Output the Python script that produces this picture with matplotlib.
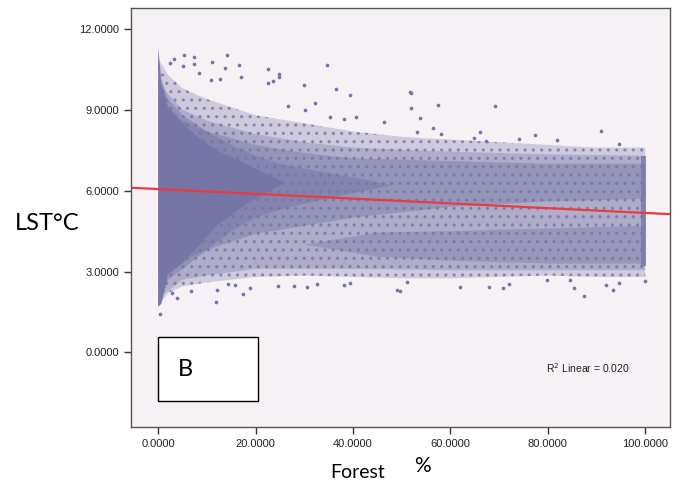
import matplotlib
matplotlib.use("Agg")
import matplotlib.pyplot as plt
from matplotlib.patches import Polygon, Rectangle

# ---- data (Forest %, LST degC) ----
# outer envelope of the point cloud (sparse dots)
env_top_x = [0, 2, 5, 10, 15, 20, 30, 40, 50, 60, 70, 80, 90, 100]
env_top_y = [10.9, 10.3, 9.8, 9.4, 9.1, 8.8, 8.5, 8.2, 8.0, 7.9, 7.8, 7.7, 7.6, 7.6]
env_bot_x = [100, 90, 80, 70, 60, 50, 40, 30, 20, 10, 5, 2, 0]
env_bot_y = [2.8, 2.8, 2.85, 2.8, 2.75, 2.75, 2.8, 2.85, 2.8, 2.6, 2.45, 2.2, 1.7]

# broad body of the cloud
mid_top_x = [0, 5, 10, 20, 30, 40, 60, 80, 100]
mid_top_y = [10.0, 9.0, 8.6, 8.1, 7.8, 7.6, 7.45, 7.35, 7.3]
mid_bot_x = [100, 80, 60, 40, 20, 10, 5, 0]
mid_bot_y = [3.05, 3.05, 3.05, 3.1, 3.1, 2.85, 2.7, 2.0]

# upper band (denser)
up_top_x = [0, 5, 10, 20, 30, 40, 60, 80, 100]
up_top_y = [9.5, 8.6, 8.2, 7.7, 7.4, 7.2, 7.1, 7.0, 7.0]
up_bot_x = [100, 80, 60, 40, 20, 10, 0]
up_bot_y = [5.7, 5.6, 5.4, 5.0, 4.4, 3.8, 3.0]

# lower band (denser, right half)
lo_top_x = [30, 45, 60, 80, 100]
lo_top_y = [4.0, 4.45, 4.5, 4.6, 4.7]
lo_bot_x = [100, 80, 60, 45]
lo_bot_y = [3.3, 3.3, 3.4, 3.55]

# dense core near zero forest cover
core_top_x = [0, 0.6, 2, 5, 10, 15, 20, 25, 32, 40, 48]
core_top_y = [11.3, 10.2, 9.4, 8.8, 8.2, 7.7, 7.3, 7.0, 6.75, 6.5, 6.2]
core_bot_x = [40, 32, 25, 20, 15, 10, 5, 2, 0.6, 0]
core_bot_y = [5.9, 5.6, 5.3, 5.0, 4.5, 3.8, 3.1, 2.7, 1.8, 1.7]

# fully solid part of the core
solid_top_x = [0, 0.6, 2, 5, 8, 12, 18, 26]
solid_top_y = [11.3, 10.0, 9.1, 8.5, 8.0, 7.5, 7.0, 6.3]
solid_bot_x = [18, 12, 8, 5, 2, 0.6, 0]
solid_bot_y = [5.5, 4.7, 3.9, 3.3, 2.9, 1.8, 1.7]

# dense column at 100 %
col100_y = [3.2, 7.3]

# scattered outliers
pts_x = [3.3, 5.3, 7.3, 14.1, 11.1, 16.5, 22.5, 24.7, 24.7, 23.5, 22.5, 34.6, 30.0,
         36.5, 39.3, 8.4, 13.8, 10.9, 12.7, 16.9, 7.4, 5.1, 2.5, 32.2, 26.6, 30.2,
         46.3, 40.7, 38.1, 35.3, 51.6, 51.9, 52.0, 57.4, 69.2, 53.7, 56.5, 53.1,
         58.0, 66.1, 64.9, 77.4, 90.9, 94.6, 74.1, 81.9, 67.4,
         0.4, 3.8, 11.8, 17.4, 2.9, 6.8, 12.0, 14.4, 15.7, 18.9, 24.6, 27.8, 30.5,
         32.7, 38.1, 39.4, 49.0, 51.1, 87.5, 85.3, 93.3, 94.7, 92.0, 100.0, 62.0,
         70.9, 68.0, 72.0, 49.7, 79.8, 84.6]
pts_y = [10.88, 11.03, 10.96, 11.02, 10.78, 10.68, 10.51, 10.33, 10.23, 10.09, 10.01,
         10.66, 9.94, 9.79, 9.57, 10.36, 10.55, 10.12, 10.14, 10.21, 10.71, 10.63,
         10.75, 9.27, 9.16, 9.0, 8.56, 8.72, 8.66, 8.75, 9.65, 9.64, 9.07, 9.17,
         9.13, 8.70, 8.32, 8.18, 8.09, 8.19, 7.97, 8.05, 8.20, 7.74, 7.92, 7.87, 7.84,
         1.44, 2.0, 1.87, 2.18, 2.2, 2.27, 2.33, 2.52, 2.49, 2.40, 2.47, 2.47, 2.43,
         2.52, 2.49, 2.58, 2.33, 2.61, 2.08, 2.40, 2.33, 2.58, 2.49, 2.65, 2.43,
         2.39, 2.43, 2.55, 2.28, 2.68, 2.68]

# linear fit line end points
fit_x = [-5.6, 105.1]
fit_y = [6.11, 5.13]

y_ticks = [0, 3, 6, 9, 12]
x_ticks = [0, 20, 40, 60, 80, 100]

dot = "#7676a6"
bg = "#f6f1f5"

plt.rcParams["hatch.linewidth"] = 1.2
plt.rcParams["hatch.color"] = dot

fig = plt.figure(figsize=(6.81, 4.91), dpi=100)
ax = fig.add_axes([131 / 681, 1 - 427 / 491, (670 - 131) / 681, (427 - 7.5) / 491])
ax.set_facecolor(bg)
ax.set_xlim(-5.6, 105.1)
ax.set_ylim(-2.77, 12.8)


def poly(tx, ty, bx, by, **kw):
    xy = list(zip(tx, ty)) + list(zip(bx, by))
    ax.add_patch(Polygon(xy, closed=True, linewidth=0, **kw))


poly(env_top_x, env_top_y, env_bot_x, env_bot_y, facecolor=dot, alpha=0.3)
poly(env_top_x, env_top_y, env_bot_x, env_bot_y, facecolor="none", edgecolor=dot,
     hatch="..", alpha=0.7)
poly(mid_top_x, mid_top_y, mid_bot_x, mid_bot_y, facecolor=dot, alpha=0.35)
poly(up_top_x, up_top_y, up_bot_x, up_bot_y, facecolor=dot, alpha=0.45)
poly(lo_top_x, lo_top_y, lo_bot_x, lo_bot_y, facecolor=dot, alpha=0.4)
poly(core_top_x, core_top_y, core_bot_x, core_bot_y, facecolor=dot, alpha=0.5)
poly(solid_top_x, solid_top_y, solid_bot_x, solid_bot_y, facecolor=dot, alpha=0.95)
ax.add_patch(Rectangle((99.2, col100_y[0]), 0.9, col100_y[1] - col100_y[0],
                       facecolor=dot, linewidth=0, alpha=0.8))
ax.scatter(pts_x, pts_y, s=7, color=dot, linewidths=0)

ax.plot(fit_x, fit_y, color="#ea3a42", linewidth=1.6)

ax.set_xticks(x_ticks)
ax.set_yticks(y_ticks)
ax.set_xticklabels(["%.4f" % v for v in x_ticks])
ax.set_yticklabels(["%.4f" % v for v in y_ticks])
ax.tick_params(direction="out", length=5, width=1, color="#333333",
               labelsize=8, labelcolor="#222222")
for lab in ax.get_xticklabels() + ax.get_yticklabels():
    lab.set_family("Liberation Sans")
for s in ax.spines.values():
    s.set_color("#555555")
    s.set_linewidth(1)

ax.text(0.77, 0.14, "R$^2$ Linear = 0.020", transform=ax.transAxes, fontsize=7.5,
        family="Liberation Sans", color="#222222", va="center")

# box with B label
fig.patches.append(Rectangle((158 / 681, 1 - 401 / 491), 100 / 681, 64 / 491,
                             transform=fig.transFigure, facecolor="white",
                             edgecolor="black", linewidth=1, figure=fig))
fig.text(178 / 681, 1 - 369 / 491, "B", fontsize=17, family="Lato", va="center")

fig.text(15 / 681, 1 - 224 / 491, "LST°C", fontsize=17, family="Lato", va="center")
fig.text(330 / 681, 1 - 473 / 491, "Forest", fontsize=14, family="Lato", va="center")
fig.text(414 / 681, 1 - 466 / 491, "%", fontsize=15, family="Lato", va="center")

fig.savefig("out.png", dpi=100)
